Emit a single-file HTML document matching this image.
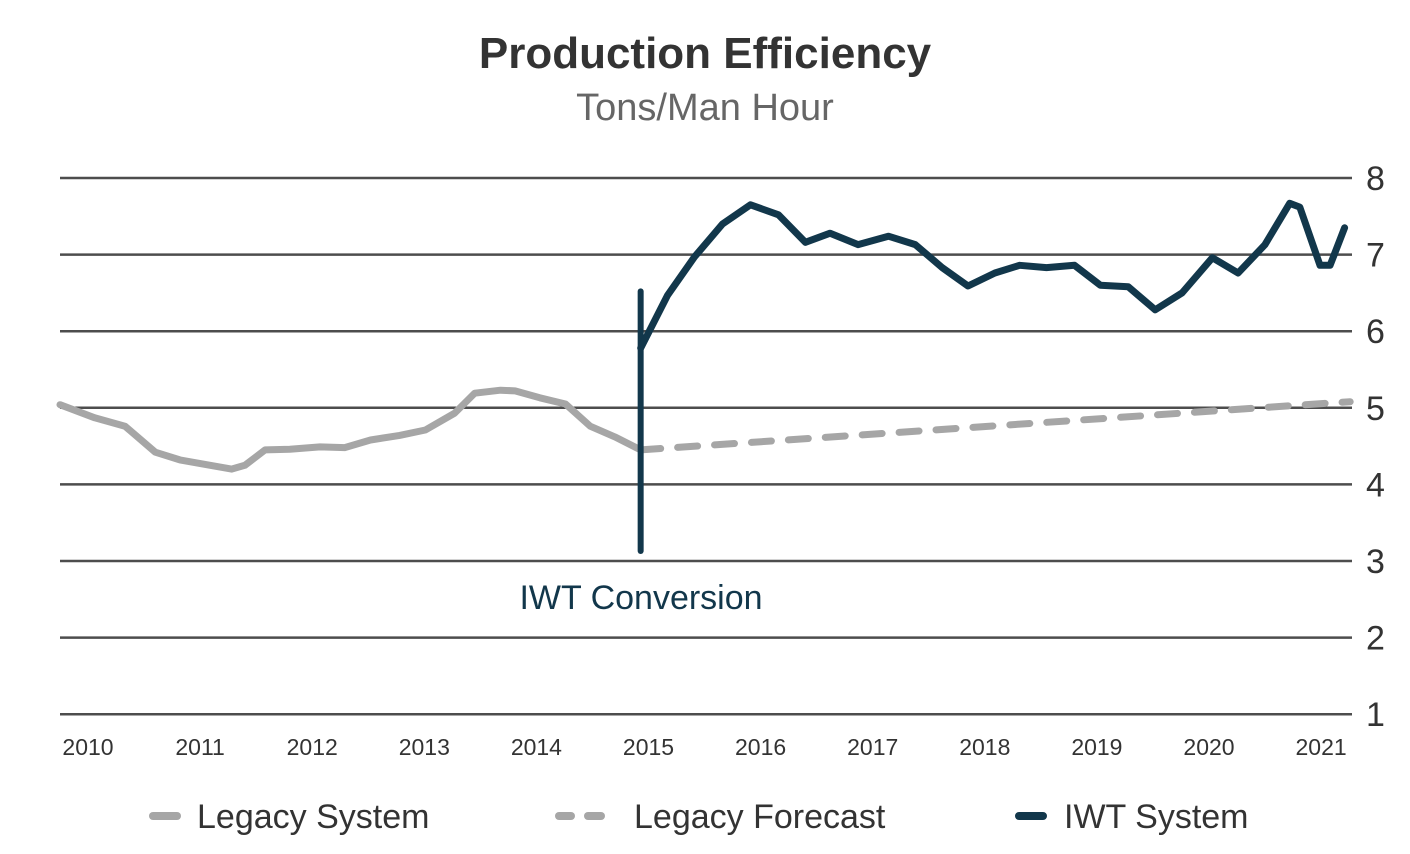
<!DOCTYPE html>
<html><head><meta charset="utf-8"><style>
html,body{margin:0;padding:0;background:#fff;}
svg{display:block;font-family:"Liberation Sans Narrow","Liberation Sans",sans-serif;}
</style></head><body>
<svg id="chart" width="1410" height="854" viewBox="0 0 1410 854" xmlns="http://www.w3.org/2000/svg">
<text x="705" y="68" text-anchor="middle" font-size="44" font-weight="bold" fill="#333">Production Efficiency</text>
<text x="705" y="120" text-anchor="middle" font-size="38" fill="#666">Tons/Man Hour</text>
<g id="grid"></g>
<g id="ylabels"></g>
<g id="xlabels"></g>
<g id="series"></g>
<text x="641" y="609" text-anchor="middle" font-size="34" fill="#12374b">IWT Conversion</text>
<g>
 <g>
  <line x1="153" y1="816" x2="177" y2="816" stroke="#a6a6a6" stroke-width="8" stroke-linecap="round"/>
  <text x="197" y="828" font-size="34" fill="#333">Legacy System</text>
 </g>
 <g>
  <line x1="559" y1="816" x2="571" y2="816" stroke="#a6a6a6" stroke-width="8" stroke-linecap="round"/>
  <line x1="588" y1="816" x2="601" y2="816" stroke="#a6a6a6" stroke-width="8" stroke-linecap="round"/>
  <text x="634" y="828" font-size="34" fill="#333">Legacy Forecast</text>
 </g>
 <g>
  <line x1="1019" y1="816" x2="1043" y2="816" stroke="#12374b" stroke-width="8" stroke-linecap="round"/>
  <text x="1064" y="828" font-size="34" fill="#333">IWT System</text>
 </g>
</g>
</svg>
<script>
const yTicks = [1,2,3,4,5,6,7,8];
const xYears = [2010,2011,2012,2013,2014,2015,2016,2017,2018,2019,2020,2021];
const legacyT = [2009.75,2010.06,2010.33,2010.60,2010.82,2011.09,2011.28,2011.40,2011.58,2011.80,2012.07,2012.29,2012.52,2012.78,2013.01,2013.27,2013.45,2013.68,2013.81,2014.03,2014.26,2014.48,2014.70,2014.93];
const legacyV = [5.04,4.87,4.76,4.42,4.32,4.25,4.20,4.25,4.45,4.46,4.49,4.48,4.58,4.64,4.71,4.93,5.19,5.23,5.22,5.13,5.05,4.76,4.62,4.45];
const forecastT = [2014.93,2021.26];
const forecastV = [4.45,5.08];
const iwtT = [2014.93,2015.17,2015.41,2015.66,2015.91,2016.16,2016.40,2016.62,2016.87,2017.14,2017.38,2017.62,2017.85,2018.09,2018.31,2018.55,2018.80,2019.03,2019.28,2019.52,2019.76,2020.03,2020.26,2020.50,2020.72,2020.81,2020.99,2021.08,2021.21];
const iwtV = [5.78,6.47,6.97,7.40,7.65,7.52,7.16,7.28,7.13,7.24,7.13,6.83,6.59,6.76,6.86,6.83,6.86,6.60,6.58,6.28,6.50,6.96,6.76,7.13,7.67,7.62,6.86,6.86,7.35];
const conversionT = 2014.93;
const conversionRange = [3.13,6.52];

const NS='http://www.w3.org/2000/svg';
const x = t => 88 + (t-2010)*112.1;
const y = v => 178 + (8-v)*76.6;
function mk(tag, attrs, parent){const e=document.createElementNS(NS,tag);for(const k in attrs)e.setAttribute(k,attrs[k]);parent.appendChild(e);return e;}
const grid=document.getElementById('grid'), yl=document.getElementById('ylabels'), xl=document.getElementById('xlabels'), ser=document.getElementById('series');
yTicks.forEach(v=>{
  const l=mk('line',{x1:60,x2:1352,y1:y(v),y2:y(v),stroke:'#4d4d4d','stroke-width':2.5},grid);
  
  
  const t=mk('text',{x:1366,y:y(v)+12,'font-size':34,fill:'#333'},yl);
  t.textContent=v;
  
  
});
xYears.forEach(yr=>{
  const t=mk('text',{x:x(yr),y:755,'text-anchor':'middle','font-size':23,fill:'#333'},xl);
  t.textContent=yr;
  
  
});
function pts(T,V){return T.map((t,i)=>x(t).toFixed(1)+','+y(V[i]).toFixed(1)).join(' ');}
const leg=mk('polyline',{points:pts(legacyT,legacyV),fill:'none',stroke:'#a6a6a6','stroke-width':7,'stroke-linejoin':'round','stroke-linecap':'round'},ser);


const fc=mk('polyline',{points:pts(forecastT,forecastV),fill:'none',stroke:'#a6a6a6','stroke-width':7,'stroke-linecap':'round','stroke-dasharray':'20 17'},ser);


const vl=mk('line',{x1:x(conversionT),x2:x(conversionT),y1:y(conversionRange[1]),y2:y(conversionRange[0]),stroke:'#12374b','stroke-width':6,'stroke-linecap':'round'},ser);


const iw=mk('polyline',{points:pts(iwtT,iwtV),fill:'none',stroke:'#12374b','stroke-width':7,'stroke-linejoin':'round','stroke-linecap':'round'},ser);


</script>
</body></html>
